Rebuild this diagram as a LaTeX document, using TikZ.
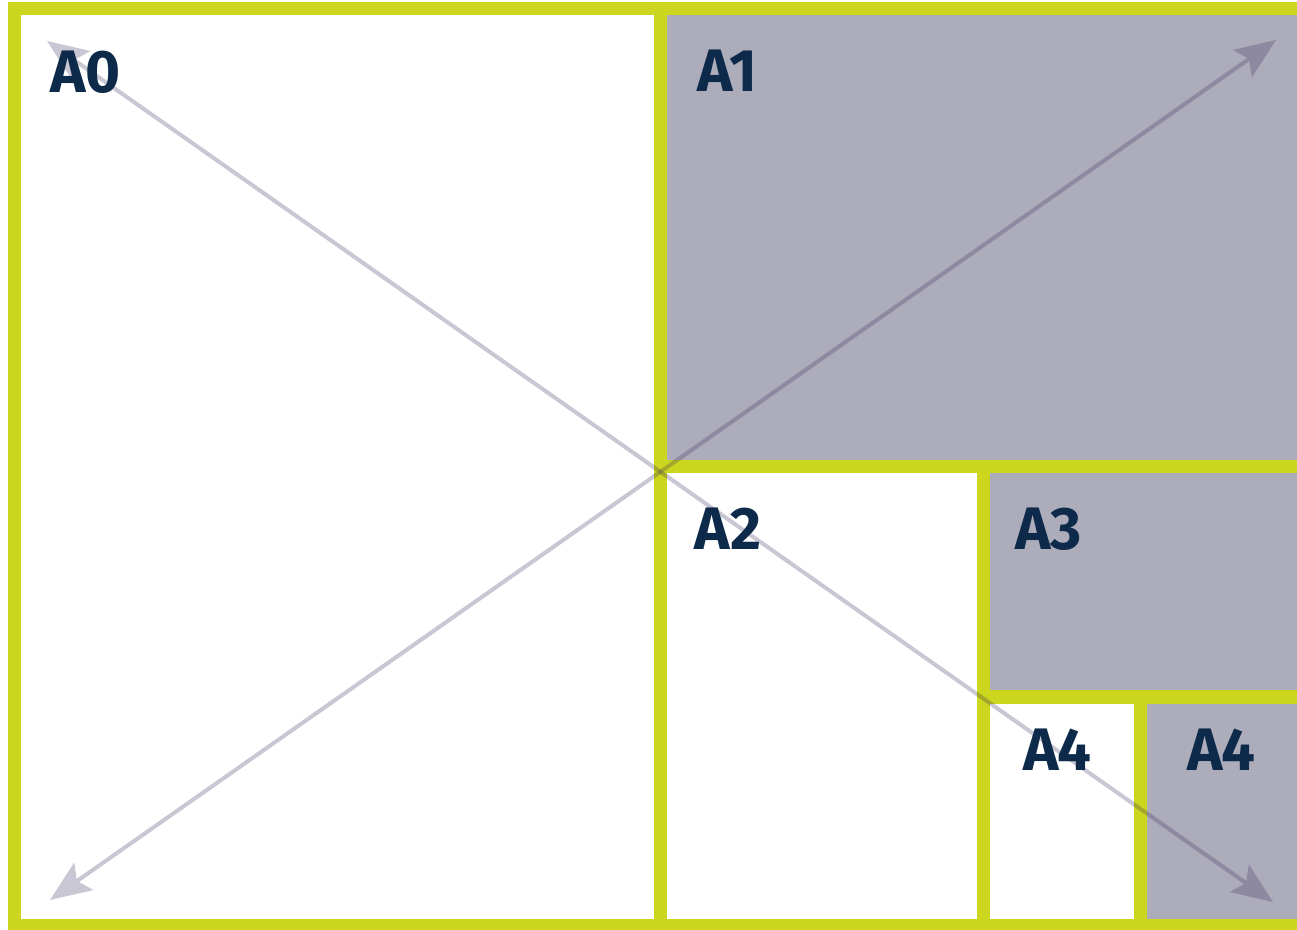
\documentclass[tikz,border=0pt]{standalone}
\usepackage{fontspec}
\newfontfamily\sheetfont{Fira Sans}
\usetikzlibrary{arrows.meta}
\definecolor{sheetline}{HTML}{CDD61E}
\definecolor{sheetgray}{HTML}{ADACBB}
\definecolor{sheetink}{HTML}{0D2A4A}
\definecolor{diagink}{HTML}{2A2250}

\begin{document}
\begin{tikzpicture}[x=0.5pt,y=-0.5pt,
  frame/.style={draw=sheetline,line width=6.5pt},
  diag/.style={draw=diagink,fill=diagink,line width=2pt,{Stealth[length=20.5pt,width=16.5pt,inset=4pt]}-{Stealth[length=20.5pt,width=16.5pt,inset=4pt]}},
  lbl/.style={font=\sheetfont\bfseries\fontsize{30}{30}\selectfont,text=sheetink,anchor=base west,inner sep=0pt}]
\clip (0,0) rectangle (1297,930);
\fill[white] (0,0) rectangle (1297,930);
\fill[sheetgray] (660,8.5) rectangle (1310,467); \fill[sheetgray] (983,467) rectangle (1310,697); \fill[sheetgray] (1140,697) rectangle (1310,925);
\draw[frame] (14.5,8.5) rectangle (1310,925);
\draw[frame] (660,8.5)--(660,925); \draw[frame] (660,467)--(1310,467); \draw[frame] (983,467)--(983,925); \draw[frame] (983,697)--(1310,697); \draw[frame] (1140,697)--(1140,925);
\coordinate (bl) at (50,900); \coordinate (tr) at (1276,40); \coordinate (tl) at (47,41); \coordinate (br) at (1273,902);
\begin{scope}[transparency group,opacity=0.25] \draw[diag] (bl)--(tr); \end{scope}
\begin{scope}[transparency group,opacity=0.25] \draw[diag] (tl)--(br); \end{scope}
\node[lbl] (a0) at (50,93) {A0}; \node[lbl] (a1) at (697,92) {A1}; \node[lbl] (a2) at (694,550) {A2};
\node[lbl] (a3) at (1015,550) {A3}; \node[lbl] (a4l) at (1023,770) {A4}; \node[lbl] (a4r) at (1187,770) {A4};
\end{tikzpicture}
\end{document}
